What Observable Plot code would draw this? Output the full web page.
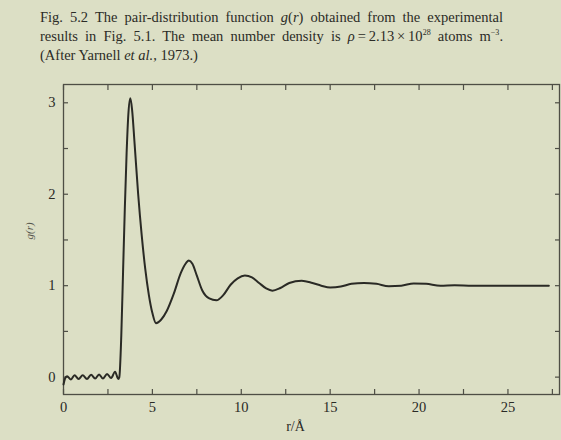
<!DOCTYPE html>
<html>
<head>
<meta charset="utf-8">
<script src="https://cdn.jsdelivr.net/npm/d3@7"></script>
<script src="https://cdn.jsdelivr.net/npm/@observablehq/plot@0.6"></script>
<style>
  html, body { margin: 0; padding: 0; }
  body { width: 561px; height: 440px; background: #dcdfc5; position: relative; overflow: hidden; font-family: "Liberation Serif", "DejaVu Serif", serif; color: #2b2b26; }
  #caption { position: absolute; left: 40px; top: 8px; width: 463px; font-size: 14.5px; line-height: 19px; }
  #caption .j { display: block; text-align: justify; text-align-last: justify; white-space: nowrap; }
  #caption .l { display: block; }
  #caption sup { font-size: 8px; line-height: 0; vertical-align: 6px; }
  #chart { position: absolute; left: 0; top: 70px; }
  #chart svg g[aria-label$="tick label"] text { font-size: 14.5px !important; }
</style>
</head>
<body>
<div id="caption">
  <span class="j">Fig. 5.2 The pair-distribution function <i>g</i>(<i>r</i>) obtained from the experimental</span>
  <span class="j">results in Fig. 5.1. The mean number density is <i>ρ</i>&thinsp;=&thinsp;2.13&thinsp;×&thinsp;10<sup>28</sup> atoms m<sup>−3</sup>.</span>
  <span class="l">(After Yarnell <i>et al.</i>, 1973.)</span>
</div>
<div id="chart"></div>
<script>
// r (Å) and g(r) values
const rValues = [0.0, 0.08, 0.2, 0.42, 0.62, 0.85, 1.08, 1.32, 1.55, 1.78, 2.0, 2.22, 2.45, 2.68, 2.9, 3.08,
  3.14, 3.25, 3.35, 3.45, 3.55, 3.65, 3.76, 3.86, 4.0, 4.2, 4.4, 4.6, 4.8, 5.0, 5.2,
  5.5, 5.8, 6.2, 6.6, 6.9, 7.05, 7.25, 7.5, 7.8, 8.2, 8.6, 9.0, 9.4, 9.8, 10.2, 10.6, 11.0, 11.4, 11.75,
  12.2, 12.7, 13.4, 14.0, 14.5, 15.0, 15.6, 16.2, 16.9, 17.6, 18.3, 19.0, 19.7, 20.4, 21.2, 22.0, 23.0, 24.5, 26.0, 27.3];
const gValues = [-0.08, -0.02, 0.01, -0.025, 0.02, -0.02, 0.02, -0.02, 0.025, -0.015, 0.03, -0.015, 0.035, -0.01, 0.06, -0.02,
  0.0, 0.45, 1.15, 1.85, 2.45, 2.88, 3.05, 2.92, 2.55, 2.0, 1.55, 1.18, 0.9, 0.7, 0.59,
  0.63, 0.72, 0.91, 1.14, 1.25, 1.275, 1.24, 1.11, 0.95, 0.86, 0.84, 0.9, 1.01, 1.08, 1.11, 1.09, 1.03, 0.97, 0.945,
  0.975, 1.03, 1.055, 1.03, 1.0, 0.98, 0.99, 1.02, 1.03, 1.02, 0.995, 1.0, 1.025, 1.02, 1.0, 1.005, 1.0, 1.0, 1.0, 1.0];

const xTicks = [0, 2.5, 5, 7.5, 10, 12.5, 15, 17.5, 20, 22.5, 25, 27.5];
const xTickLabels = [0, 5, 10, 15, 20, 25];
const yTicks = [0, 0.5, 1, 1.5, 2, 2.5, 3];
const yTickLabels = [0, 1, 2, 3];
const xTitle = "r/Å";
const yTitle = "g(r)";

const data = rValues.map((r, i) => ({r, g: gValues[i]}));

const frameColor = "#4e4e45";
const inkColor = "#2a2a25";
const noText = () => "";
const intText = d => String(d);

const svg = Plot.plot({
  width: 561,
  height: 370,
  marginTop: 14,
  marginBottom: 46,
  marginLeft: 63,
  marginRight: 2,
  x: {domain: [0, 27.9]},
  y: {domain: [-0.19, 3.2]},
  style: {background: "transparent", fontFamily: "'Liberation Serif', 'DejaVu Serif', serif", fontSize: "14px", color: inkColor},
  marks: [
    Plot.frame({stroke: frameColor, strokeWidth: 1.3}),
    Plot.axisX(xTicks, {anchor: "bottom", tickSize: -5, tickFormat: noText, label: null, stroke: frameColor, strokeWidth: 1.2}),
    Plot.axisX(xTicks, {anchor: "top", tickSize: -5, tickFormat: noText, label: null, stroke: frameColor, strokeWidth: 1.2}),
    Plot.axisY(yTicks, {anchor: "left", tickSize: -5, tickFormat: noText, label: null, stroke: frameColor, strokeWidth: 1.2}),
    Plot.axisY(yTicks, {anchor: "right", tickSize: -5, tickFormat: noText, label: null, stroke: frameColor, strokeWidth: 1.2}),
    Plot.axisX(xTickLabels, {anchor: "bottom", tickSize: 0, tickPadding: 7, tickFormat: intText, label: null, fill: inkColor, fontSize: 14.5}),
    Plot.axisY(yTickLabels, {anchor: "left", tickSize: 0, tickPadding: 8, tickFormat: intText, label: null, fill: inkColor, fontSize: 14.5}),
    Plot.text([xTitle], {frameAnchor: "bottom", text: d => d, dx: -16, dy: 36, fontSize: 14, fill: inkColor, ariaLabel: "xtitle"}),
    Plot.text([yTitle], {frameAnchor: "left", text: d => d, dx: -34, rotate: -90, fontSize: 11, fontStyle: "italic", fill: "#55554b", ariaLabel: "ytitle"}),
    Plot.line(data, {x: "r", y: "g", stroke: inkColor, strokeWidth: 2, curve: "monotone-x"})
  ]
});

document.getElementById("chart").appendChild(svg);

// italic "r" in the x title
const t = d3.select(svg).select('g[aria-label="xtitle"] text');
if (!t.empty()) {
  t.text(null);
  t.append("tspan").attr("font-style", "italic").text("r");
  t.append("tspan").text("/Å");
}
</script>
</body>
</html>
